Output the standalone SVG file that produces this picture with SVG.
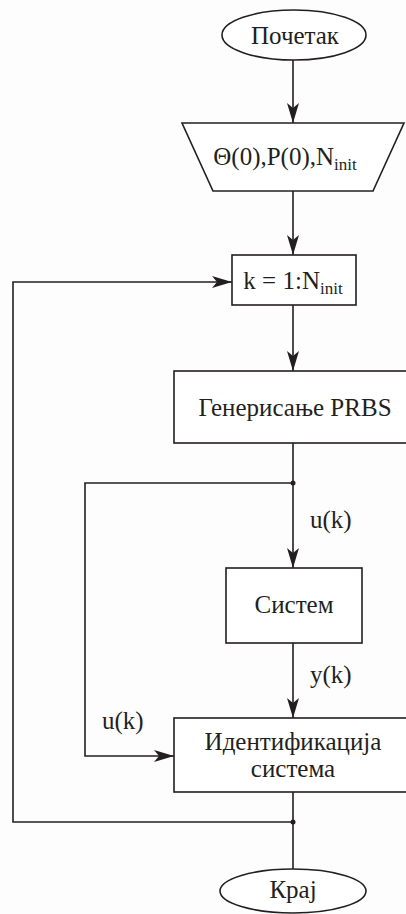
<svg xmlns="http://www.w3.org/2000/svg" width="406" height="914" viewBox="0 0 406 914">
<style>
.s{fill:none;stroke:#231f20;stroke-width:1.6}
.b{fill:#fff;stroke:#231f20;stroke-width:1.6}
.t{font-family:"Liberation Serif","Times New Roman",serif;font-size:25px;fill:#231f20;text-anchor:middle}
.l{font-family:"Liberation Serif","Times New Roman",serif;font-size:25px;fill:#231f20}
.sub{font-size:17px}
</style>
<defs>
<marker id="ah" markerUnits="userSpaceOnUse" markerWidth="22" markerHeight="14" refX="20" refY="6" orient="auto">
<path d="M0,0 L20,6 L0,12 L5,6 Z" fill="#231f20"/>
</marker>
</defs>
<rect width="406" height="914" fill="#fdfdfd"/>
<g id="connectors">
<line class="s" x1="293" y1="60" x2="293" y2="123" marker-end="url(#ah)"/>
<line class="s" x1="293" y1="191" x2="293" y2="255" marker-end="url(#ah)"/>
<line class="s" x1="293" y1="305" x2="293" y2="371" marker-end="url(#ah)"/>
<line class="s" x1="293" y1="443" x2="293" y2="568" marker-end="url(#ah)"/>
<polyline class="s" points="293,483 85,483 85,756 174,756" marker-end="url(#ah)"/>
<line class="s" x1="293" y1="643" x2="293" y2="718" marker-end="url(#ah)"/>
<line class="s" x1="293" y1="792" x2="293" y2="869"/>
<polyline class="s" points="293,822 13,822 13,282 232,282" marker-end="url(#ah)"/>
<circle cx="293" cy="483" r="2.5" fill="#231f20"/>
<circle cx="293" cy="822" r="2.5" fill="#231f20"/>
<text class="l" x="310" y="528">u(k)</text>
<text class="l" x="310" y="683">y(k)</text>
<text class="l" x="102" y="729">u(k)</text>
</g>
<g id="start">
<ellipse class="b" cx="294" cy="35" rx="72" ry="25"/>
<text class="t" x="295" y="44">Почетак</text>
</g>
<g id="init">
<polygon class="b" points="182,123 404,123 373,191 213,191"/>
<text class="t" x="285" y="165">Θ(0),P(0),N<tspan class="sub" dy="5">init</tspan></text>
</g>
<g id="loop">
<rect class="b" x="232" y="255" width="124" height="50"/>
<text class="t" x="293" y="289">k = 1:N<tspan class="sub" dy="5">init</tspan></text>
</g>
<g id="prbs">
<rect class="b" x="174" y="371" width="240" height="72"/>
<text class="t" x="295" y="416">Генерисање PRBS</text>
</g>
<g id="system">
<rect class="b" x="226" y="568" width="136" height="75"/>
<text class="t" x="294" y="613">Систем</text>
</g>
<g id="ident">
<rect class="b" x="174" y="718" width="240" height="74"/>
<text class="t" x="293" y="750">Идентификација</text>
<text class="t" x="293" y="777">система</text>
</g>
<g id="end">
<ellipse class="b" cx="293" cy="891" rx="73" ry="22"/>
<text class="t" x="293" y="898">Крај</text>
</g>
</svg>
